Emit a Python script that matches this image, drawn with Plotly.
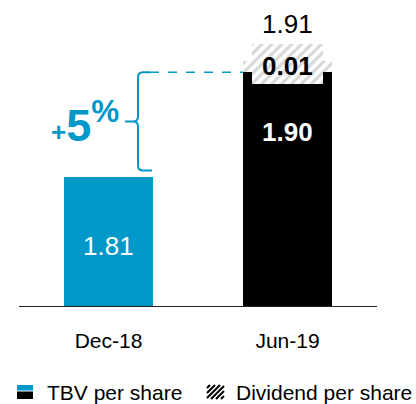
import plotly.graph_objects as go

# ---------------- data ----------------
categories = ["Dec-18", "Jun-19"]
tbv_per_share = [1.81, 1.90]
dividend_categories = ["Jun-19"]
dividend_per_share = [0.01]
total_label = "1.91"
growth_label = "+5%"
legend_labels = ["TBV per share", "Dividend per share"]

# ---------------- styling / geometry ----------------
BLUE = "#0098C9"
BLACK = "#000000"
FONT = "Liberation Sans, Arial, sans-serif"
W, H = 416, 404
L, R, T, B = 19, 39, 0, 98
PW, PH = W - L - R, H - T - B
Y_MIN = 1.70
PX_PER_UNIT = 1168.5
Y_MAX = Y_MIN + PH / PX_PER_UNIT


def px(xp):
    return (xp - L) / PW


def py(yp):
    return (T + PH - yp) / PH


def v2p(v):
    return T + PH - (v - Y_MIN) * PX_PER_UNIT


fig = go.Figure()

fig.add_bar(
    x=categories, y=tbv_per_share, width=0.5,
    marker=dict(color=[BLUE, BLACK], line=dict(width=0)),
    name=legend_labels[0], showlegend=False, hoverinfo="skip",
)
fig.add_bar(
    x=dividend_categories, y=dividend_per_share, base=[tbv_per_share[1]], width=0.5,
    marker=dict(color="white", line=dict(width=0),
                pattern=dict(shape="/", fgcolor="#b0b0b0", bgcolor="white", size=7, solidity=0.45)),
    name=legend_labels[1], showlegend=False, hoverinfo="skip",
)
# hatched label box behind the dividend value
div_mid = tbv_per_share[1] + dividend_per_share[0] / 2
fig.add_bar(
    x=dividend_categories, y=[0.034], base=[div_mid + 0.002 - 0.017], width=0.4,
    marker=dict(color="white", line=dict(width=0),
                pattern=dict(shape="/", fgcolor="#b0b0b0", bgcolor="white", size=7, solidity=0.45)),
    showlegend=False, hoverinfo="skip",
)

ann = []
ann.append(dict(x=categories[0], y=tbv_per_share[0], yshift=-69, text=f"{tbv_per_share[0]:.2f}",
                showarrow=False, font=dict(size=26, color="white", family=FONT)))
ann.append(dict(x=categories[1], y=tbv_per_share[1], yshift=-60, text=f"<b>{tbv_per_share[1]:.2f}</b>",
                showarrow=False, font=dict(size=26, color="white", family=FONT)))
ann.append(dict(x=dividend_categories[0], y=div_mid, text=f"<b>{dividend_per_share[0]:.2f}</b>",
                showarrow=False, font=dict(size=26, color="black", family=FONT)))
ann.append(dict(x=categories[1], y=tbv_per_share[1] + dividend_per_share[0], yshift=37, text=total_label,
                showarrow=False, font=dict(size=26, color="black", family=FONT)))
# growth label
ann.append(dict(xref="paper", yref="paper", x=px(84.5), y=py(122), xanchor="center", yanchor="middle",
                text="<b><span style='font-size:26px'>" + growth_label[0] + "</span>" + growth_label[1:-1]
                     + "<sup>" + growth_label[-1] + "</sup></b>",
                showarrow=False, font=dict(size=45, color=BLUE, family=FONT)))
# legend texts
ann.append(dict(xref="paper", yref="paper", x=px(45), y=py(393), xanchor="left", yanchor="middle",
                text=legend_labels[0], showarrow=False, font=dict(size=21, color="black", family=FONT)))
ann.append(dict(xref="paper", yref="paper", x=px(234), y=py(393), xanchor="left", yanchor="middle",
                text=legend_labels[1], showarrow=False, font=dict(size=21, color="black", family=FONT)))

shapes = []
# bracket
y_top = v2p(tbv_per_share[1])
y_bot = v2p(tbv_per_share[0]) - 7
y_mid = (y_top + y_bot) / 2
bx = 138
r = 5
pts = [
    ("M", 150, y_top), ("L", bx + r, y_top), ("Q", bx, y_top, bx, y_top + r),
    ("L", bx, y_mid - r), ("Q", bx, y_mid, bx - r, y_mid), ("L", 125, y_mid),
    ("M", bx - r, y_mid), ("Q", bx, y_mid, bx, y_mid + r),
    ("L", bx, y_bot - r), ("Q", bx, y_bot, bx + r, y_bot), ("L", 152, y_bot),
]
path = ""
for p in pts:
    cmd = p[0]
    coords = p[1:]
    s = []
    for i in range(0, len(coords), 2):
        s.append(f"{px(coords[i]):.5f},{py(coords[i+1]):.5f}")
    path += cmd + " " + " ".join(s) + " "
shapes.append(dict(type="path", xref="paper", yref="paper", path=path.strip(),
                   line=dict(color=BLUE, width=2)))
# dashed connector
shapes.append(dict(type="line", xref="paper", yref="paper", x0=px(150), x1=px(243),
                   y0=py(y_top), y1=py(y_top), line=dict(color=BLUE, width=1.5, dash="dash")))

# legend icons
shapes.append(dict(type="rect", xref="paper", yref="paper", x0=px(17), x1=px(33), y0=py(385), y1=py(390.5),
                   fillcolor=BLUE, line=dict(width=0)))
shapes.append(dict(type="rect", xref="paper", yref="paper", x0=px(17), x1=px(33), y0=py(391.5), y1=py(399),
                   fillcolor=BLACK, line=dict(width=0)))
# hatched legend icon
hx0, hx1, hy0, hy1 = 207, 224, 385, 399
hpath = ""
c = hx0 + hy0 + 3
while c < hx1 + hy1:
    xa = max(hx0, c - hy1)
    xb = min(hx1, c - hy0)
    if xb > xa:
        hpath += f"M {px(xa):.5f},{py(c - xa):.5f} L {px(xb):.5f},{py(c - xb):.5f} "
    c += 5
shapes.append(dict(type="path", xref="paper", yref="paper", path=hpath.strip(),
                   line=dict(color="black", width=2)))

fig.update_layout(
    width=W, height=H, margin=dict(l=L, r=R, t=T, b=B),
    paper_bgcolor="white", plot_bgcolor="white",
    barmode="overlay", bargap=0, showlegend=False,
    annotations=ann, shapes=shapes,
    font=dict(family=FONT, color="black"),
    xaxis=dict(type="category", categoryorder="array", categoryarray=categories,
               range=[-0.5, 1.5], showline=True, linecolor="#222222", linewidth=1.2,
               showgrid=False, zeroline=False, ticks="", ticklabelstandoff=16,
               tickfont=dict(size=21, color="black", family=FONT), fixedrange=True),
    yaxis=dict(range=[Y_MIN, Y_MAX], visible=False, showgrid=False, zeroline=False, fixedrange=True),
)

fig.write_html("out.html", config={"displayModeBar": False},
               post_script="document.body.style.margin='0';document.body.style.padding='0';"
                           "document.documentElement.style.overflow='hidden';")
